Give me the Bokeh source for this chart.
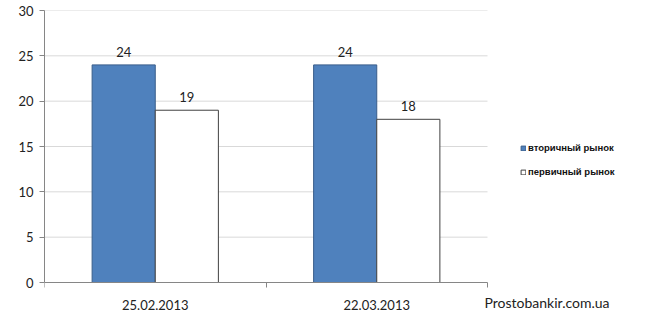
from bokeh.plotting import figure
from bokeh.models import Range1d, FixedTicker, Legend, LegendItem, Label, ColumnDataSource, LinearAxis
from bokeh.core.properties import value
from bokeh.embed import file_html
from bokeh.resources import INLINE

categories = ["25.02.2013", "22.03.2013"]
series_names = ["вторичный рынок", "первичный рынок"]
secondary = [24, 24]
primary = [19, 18]
y_ticks = [0, 5, 10, 15, 20, 25, 30]
watermark = "Prostobankir.com.ua"

n = len(categories)
bar_w = 0.285
centers = [i + 0.5 for i in range(n)]

# frame covers the whole area right of the y axis; x axis is pinned at y=0
px_per_cat = 221.5
frame_w = 647 - 44
px_per_unit = 272 / 30
x_end = frame_w / px_per_cat
y_start = -40 / px_per_unit

p = figure(width=647, height=322, output_backend="svg", toolbar_location=None,
           x_range=Range1d(0, x_end), y_range=Range1d(y_start, 30),
           x_axis_location=None, y_axis_location=None,
           min_border_left=44, min_border_right=0, min_border_top=10, min_border_bottom=0)
p.outline_line_color = None
p.background_fill_color = "white"
p.xgrid.visible = False
p.ygrid.visible = False

# horizontal grid lines, only across the category area
p.segment(x0=[0] * (len(y_ticks) - 1), x1=[n] * (len(y_ticks) - 1),
          y0=y_ticks[1:], y1=y_ticks[1:], line_color="#d9d9d9", line_width=1)

src1 = ColumnDataSource(dict(x=[c - bar_w / 2 for c in centers], top=secondary,
                             lab=[str(v) for v in secondary]))
src2 = ColumnDataSource(dict(x=[c + bar_w / 2 for c in centers], top=primary,
                             lab=[str(v) for v in primary]))

r1 = p.vbar(x="x", top="top", width=bar_w, source=src1, fill_color="#4f81bd", line_color="#385d8a", line_width=1)
r2 = p.vbar(x="x", top="top", width=bar_w, source=src2, fill_color="white", line_color="#404040", line_width=1)

for s in (src1, src2):
    p.text(x="x", y="top", text="lab", source=s, text_align="center", text_baseline="bottom",
           y_offset=-8, text_font_size="13px", text_color="#222222", text_font=value("Lato"))

xaxis = LinearAxis(fixed_location=0, bounds=(0, n))
xaxis.ticker = FixedTicker(ticks=centers, minor_ticks=list(range(n + 1)))
xaxis.major_label_overrides = {c: cat for c, cat in zip(centers, categories)}
xaxis.major_tick_line_color = None
xaxis.minor_tick_line_color = "#868686"
xaxis.minor_tick_out = 5
xaxis.minor_tick_in = 0
xaxis.axis_line_color = "#868686"
xaxis.major_label_standoff = 11
xaxis.major_label_text_font = "Lato"
xaxis.major_label_text_font_size = "13px"
xaxis.major_label_text_color = "#222222"
p.add_layout(xaxis, "below")

yaxis = LinearAxis(bounds=(0, 30))
yaxis.ticker = FixedTicker(ticks=y_ticks, minor_ticks=[])
yaxis.axis_line_color = "#868686"
yaxis.major_tick_line_color = "#868686"
yaxis.major_tick_out = 5
yaxis.major_tick_in = 0
yaxis.major_label_standoff = 6
yaxis.major_label_text_font = "Lato"
yaxis.major_label_text_font_size = "13px"
yaxis.major_label_text_color = "#222222"
p.add_layout(yaxis, "left")

legend = Legend(items=[LegendItem(label=series_names[0], renderers=[r1]),
                       LegendItem(label=series_names[1], renderers=[r2])],
                location=(476, 145), orientation="vertical",
                glyph_width=6, glyph_height=6, label_height=10, spacing=13,
                label_text_font="Liberation Sans", label_text_font_style="bold",
                label_text_font_size="9.5px", label_standoff=2, label_text_color="#111111",
                background_fill_alpha=0, border_line_color=None, padding=0, margin=0)
p.add_layout(legend)

p.add_layout(Label(x=440, y=20, x_units="screen", y_units="screen", text=watermark,
                   text_baseline="middle",
                   text_font="Lato", text_font_size="14px", text_color="#222222"))

open("out.html", "w").write(file_html(p, INLINE))
